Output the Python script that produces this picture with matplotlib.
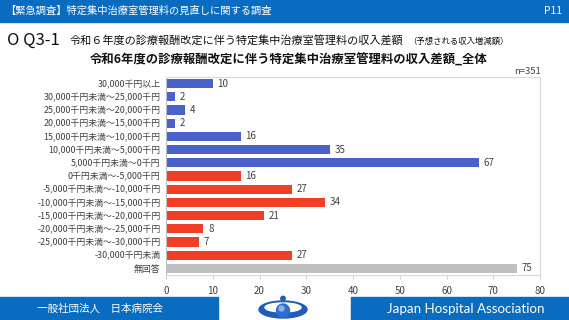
import matplotlib
matplotlib.use("Agg")
from matplotlib import pyplot as plt
from matplotlib.patches import Rectangle, Ellipse, Circle

plt.rcParams["font.family"] = ["Noto Sans CJK JP", "DejaVu Sans"]

# Data
categories = [
    "30,000千円以上",
    "30,000千円未満～25,000千円",
    "25,000千円未満～20,000千円",
    "20,000千円未満～15,000千円",
    "15,000千円未満～10,000千円",
    "10,000千円未満～5,000千円",
    "5,000千円未満～0千円",
    "0千円未満～-5,000千円",
    "-5,000千円未満～-10,000千円",
    "-10,000千円未満～-15,000千円",
    "-15,000千円未満～-20,000千円",
    "-20,000千円未満～-25,000千円",
    "-25,000千円未満～-30,000千円",
    "-30,000千円未満",
    "無回答",
]
counts = [10, 2, 4, 2, 16, 35, 67, 16, 27, 34, 21, 8, 7, 27, 75]
groups = ["up"] * 7 + ["down"] * 7 + ["na"]
x_ticks = [0, 10, 20, 30, 40, 50, 60, 70, 80]

stat_names = ["最大値：", "平均値：", "最小値："]
stat_values = ["177,824", "-8,186", "-238,924"]

colors = {"up": "#4A62C8", "down": "#F03F26", "na": "#BFBFBF"}
W, H = 569, 320
BLUE = "#0A6CC0"
TXT = "#404040"

fig = plt.figure(figsize=(W / 100, H / 100), dpi=100)

# background layer in pixel coordinates
bg = fig.add_axes([0, 0, 1, 1])
bg.set_xlim(0, W)
bg.set_ylim(H, 0)
bg.axis("off")

# header band
bg.add_patch(Rectangle((0, 0), W, 22, color=BLUE))
bg.text(5, 11, "【緊急調査】特定集中治療室管理料の見直しに関する調査",
        color="white", fontsize=7.4, va="center", ha="left")
bg.text(562, 11, "P11", color="white", fontsize=7.5, va="center", ha="right")

# question line
bg.text(7, 40, "O Q3-1", fontsize=12, va="center", ha="left", color="#111111")
bg.text(70, 40, "令和６年度の診療報酬改定に伴う特定集中治療室管理料の収入差額",
        fontsize=8.0, va="center", ha="left", color="#111111")
bg.text(408, 41, "（予想される収入増減額）", fontsize=6.0, va="center",
        ha="left", color="#111111")

# chart title
bg.text(289, 60, "令和6年度の診療報酬改定に伴う特定集中治療室管理料の収入差額_全体",
        fontsize=8.9, fontweight="bold", va="center", ha="center", color="#111111")
bg.text(541, 71, "n=351", fontsize=6.8, va="center", ha="right", color=TXT)

# footer
bg.add_patch(Rectangle((0, 297), 218, 23, color=BLUE))
bg.add_patch(Rectangle((351, 297), 218, 23, color=BLUE))
bg.text(100, 309, "一般社団法人　日本病院会", color="white", fontsize=7.6,
        va="center", ha="center")
bg.text(466, 309, "Japan Hospital Association", color="white", fontsize=9.6,
        va="center", ha="center", family=["Lato", "DejaVu Sans"])

# logo
bg.add_patch(Ellipse((283, 309.5), 48, 17, color="#1F5DB8"))
bg.add_patch(Ellipse((283, 307.5), 36, 9, color="white"))
bg.add_patch(Circle((283, 310.5), 6.5, color="#2F6FCC"))
bg.add_patch(Circle((281.5, 308.5), 2.5, color="#8FB4E8"))
bg.add_patch(Circle((283, 298.5), 2.2, color="#1F5DB8"))

# bar chart
x0, x1 = 166, 540
top, bottom = 77, 275
ax = fig.add_axes([x0 / W, 1 - bottom / H, (x1 - x0) / W, (bottom - top) / H])
ypos = list(range(len(categories)))
ax.barh(ypos, counts, height=0.7, color=[colors[g] for g in groups])
for y, v in zip(ypos, counts):
    ax.text(v + 1.0, y, str(v), va="center", ha="left", fontsize=7, color=TXT)

ax.set_ylim(len(categories) - 0.5, -0.5)
ax.set_xlim(0, 80)
ax.set_yticks(ypos)
ax.set_yticklabels(categories, fontsize=6.4, color=TXT)
ax.set_xticks(x_ticks)
ax.set_xticklabels([str(t) for t in x_ticks], fontsize=7, color=TXT)
ax.tick_params(axis="y", length=0, pad=4)
ax.tick_params(axis="x", length=3, color="#D0D0D0", pad=5)
for s in ax.spines.values():
    s.set_color("#D9D9D9")
    s.set_linewidth(0.8)
ax.spines["left"].set_color("#BFBFBF")

# stats box
for i, (name, val) in enumerate(zip(stat_names, stat_values)):
    yy = 94 + i * 14.5
    bg.text(420, yy, name, fontsize=7.2, va="center", ha="left", color=TXT)
    bg.text(507, yy, val, fontsize=7.2, va="center", ha="right",
            color=TXT if i == 0 else "#FF0000")
    bg.text(512, yy, "千円", fontsize=7.2, va="center", ha="left", color=TXT)

fig.savefig("out.png", dpi=100)
